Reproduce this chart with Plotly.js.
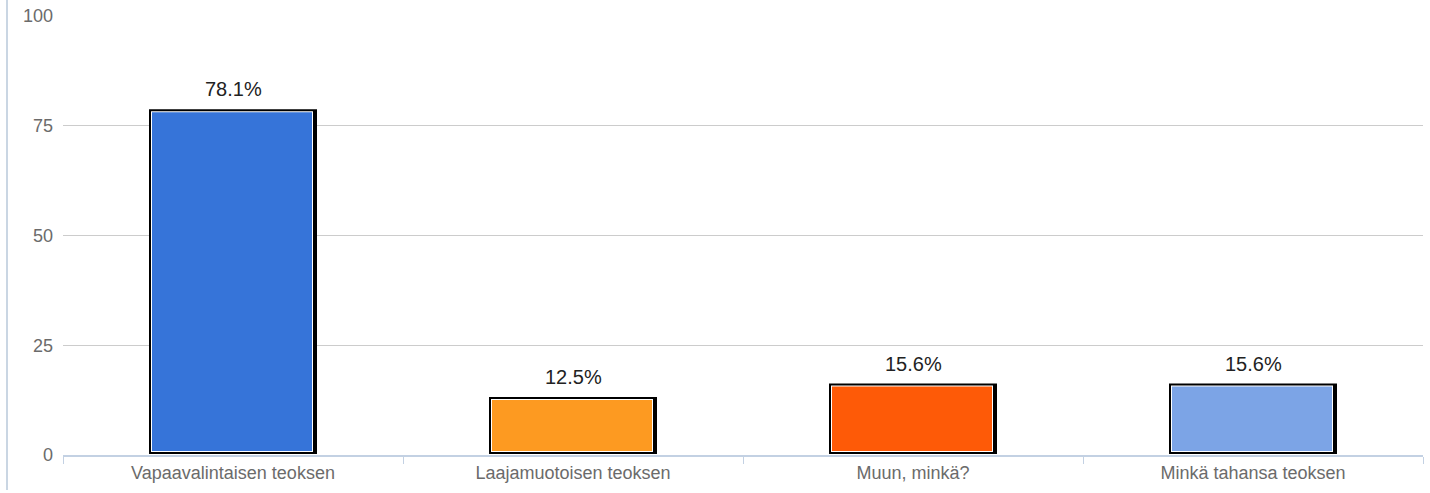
<!DOCTYPE html>
<html>
<head>
<meta charset="utf-8">
<script src="https://cdn.plot.ly/plotly-3.0.1.min.js"></script>
<style>
html,body{margin:0;padding:0;background:#fff;}
#chart{width:1430px;height:493px;}
</style>
</head>
<body>
<div id="chart"></div>
<script>
// ---- data ----
const categories = ["Vapaavalintaisen teoksen", "Laajamuotoisen teoksen", "Muun, minkä?", "Minkä tahansa teoksen"];
const values = [78.1, 12.5, 15.6, 15.6];
const valueLabels = ["78.1%", "12.5%", "15.6%", "15.6%"];
const barColors = ["#3674d9", "#fd9a21", "#fe5a07", "#7ca4e6"];
const yTicks = [0, 25, 50, 75, 100];

// ---- geometry helpers (style only) ----
const M = {l: 63, r: 7, t: 16, b: 38};
const W = 1430, H = 493;
const plotW = W - M.l - M.r;   // 1360
const plotH = H - M.t - M.b;   // 439
const xU = 1 / (plotW / categories.length); // category units per px
const yU = 100 / plotH;                       // y units per px

function layer(color, leftPx, rightPx, topPx, basePx) {
  return {
    type: 'bar',
    x: categories,
    y: values.map(v => v + topPx * yU - basePx * yU),
    base: values.map(() => basePx * yU),
    width: values.map(() => (rightPx - leftPx) * xU),
    offset: values.map(() => leftPx * xU),
    marker: {color: color, line: {width: 0}},
    hoverinfo: 'skip',
    showlegend: false
  };
}

const traces = [
  layer('#000000', -84, 84, 3, 1),
  layer('#ffffff', -82, 80, 1, 3),
  layer(barColors, -81, 79, 0, 4)
];

const annotations = categories.map((c, i) => ({
  x: c, y: values[i], xref: 'x', yref: 'y',
  text: valueLabels[i], showarrow: false,
  yanchor: 'bottom', yshift: 10,
  font: {family: 'Liberation Sans, Arial, sans-serif', size: 20, color: '#222222'}
}));

const layout = {
  width: W, height: H,
  margin: M,
  paper_bgcolor: '#ffffff', plot_bgcolor: '#ffffff',
  barmode: 'overlay',
  showlegend: false,
  font: {family: 'Liberation Sans, Arial, sans-serif'},
  xaxis: {
    type: 'category',
    range: [-0.5, categories.length - 0.5],
    showgrid: false, zeroline: false,
    showline: true, linecolor: '#c3d1e3', linewidth: 2,
    ticks: 'outside', tickson: 'boundaries', ticklen: 7, tickcolor: '#c3d1e3', tickwidth: 1,
    tickfont: {size: 18, color: '#6b6b6b'},
    fixedrange: true
  },
  yaxis: {
    range: [0, 100],
    tickmode: 'array', tickvals: yTicks, ticktext: yTicks.map(String),
    showgrid: true, gridcolor: '#cccccc', gridwidth: 1,
    zeroline: false, showline: false, ticks: '',
    ticklabelstandoff: 9,
    tickfont: {size: 18, color: '#6b6b6b'},
    fixedrange: true
  },
  annotations: annotations,
  shapes: [{
    type: 'line', xref: 'paper', yref: 'paper',
    x0: (7 - M.l) / plotW, x1: (7 - M.l) / plotW,
    y0: (M.t + plotH - 490) / plotH, y1: (M.t + plotH) / plotH,
    line: {color: '#b9c8da', width: 1.5}
  }]
};

Plotly.newPlot('chart', traces, layout, {displayModeBar: false, staticPlot: true});
</script>
</body>
</html>
